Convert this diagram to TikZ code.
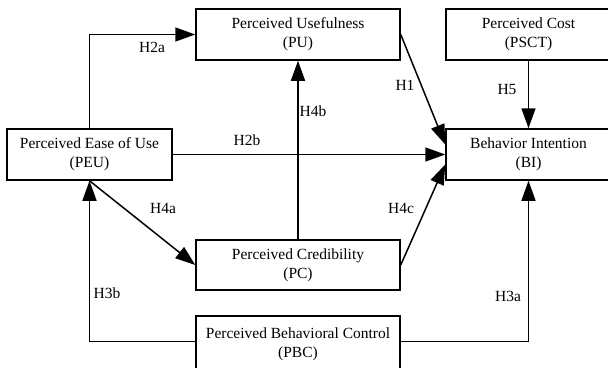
\documentclass[tikz,border=0pt]{standalone}
\usepackage{fontspec}
\setmainfont{Liberation Serif}
\usetikzlibrary{arrows.meta,calc}
\begin{document}
\begin{tikzpicture}[x=1pt,y=-1pt,
  box/.style={draw,line width=1.5pt,rectangle,inner sep=0pt,align=center,
    font=\fontsize{15.5}{19}\selectfont},
  lbl/.style={inner sep=0pt,font=\fontsize{15.5}{19}\selectfont},
  conn/.style={line width=1.5pt,-{Triangle[length=20pt,width=14pt]}}]
\useasboundingbox (0,0) rectangle (608,367);
\node[box,minimum width=204pt,minimum height=51pt] (PU) at (298,34.5) {Perceived Usefulness\\(PU)};
\node[box,minimum width=165pt,minimum height=51pt] (PSCT) at (528.5,34.5) {Perceived Cost\\(PSCT)};
\node[box,minimum width=165pt,minimum height=51pt] (PEU) at (89.5,154.5) {Perceived Ease of Use\\(PEU)};
\node[box,minimum width=165pt,minimum height=51pt] (BI) at (528.5,154.5) {Behavior Intention\\(BI)};
\node[box,minimum width=204pt,minimum height=50pt] (PC) at (298,265) {Perceived Credibility\\(PC)};
\node[box,minimum width=204pt,minimum height=56pt] (PBC) at (298,344) {Perceived Behavioral Control\\(PBC)};
\coordinate (BIa) at ($(BI.west)+(0,-10)$);
\coordinate (BIc) at ($(BI.west)+(0,10)$);
\coordinate (PBCr) at ($(PBC.north east)+(0,26)$);
\coordinate (PBCl) at ($(PBC.north west)+(0,26)$);
\draw[conn] (PEU.north) |- (PU.west);
\draw[conn] (PEU.east) -- (BI.west);
\draw[conn] (PC.north) -- (PU.south);
\draw[conn] (PU.east) -- (BIa);
\draw[conn] (PSCT.south) -- (BI.north);
\draw[conn] (PC.east) -- (BIc);
\draw[conn] (PEU.south) -- (PC.west);
\draw[conn] (PBCl) -| (PEU.south);
\draw[conn] (PBCr) -| (BI.south);
\node[lbl] (l2a) at (152,47) {H2a};
\node[lbl] (l2b) at (247,140) {H2b};
\node[lbl] (l4b) at (313,111) {H4b};
\node[lbl] (l1) at (405,85) {H1};
\node[lbl] (l5) at (507,89) {H5};
\node[lbl] (l4a) at (163,208) {H4a};
\node[lbl] (l4c) at (401,208) {H4c};
\node[lbl] (l3b) at (107,293) {H3b};
\node[lbl] (l3a) at (508,296) {H3a};
\end{tikzpicture}
\end{document}
